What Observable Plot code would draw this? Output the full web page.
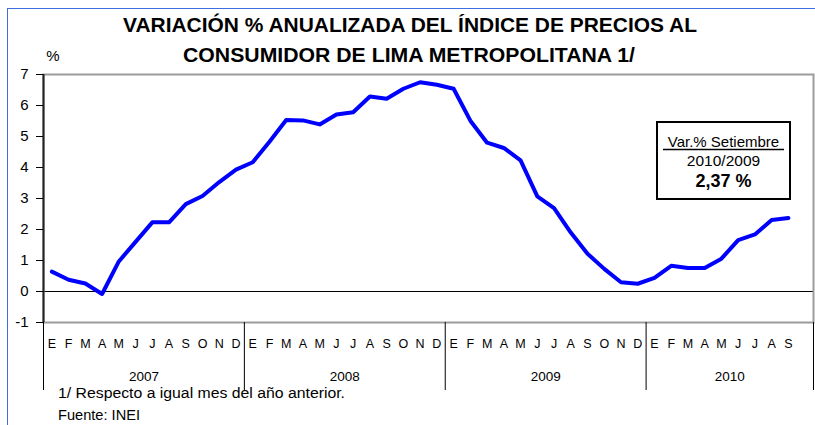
<!DOCTYPE html>
<html>
<head>
<meta charset="utf-8">
<script src="https://cdn.jsdelivr.net/npm/d3@7"></script>
<script src="https://cdn.jsdelivr.net/npm/@observablehq/plot@0.6"></script>
<style>
  html, body { margin: 0; padding: 0; background: #fff; }
  #wrap { position: relative; width: 815px; height: 425px; overflow: hidden; font-family: "Liberation Sans", Arial, sans-serif; }
  #border { position: absolute; left: 7px; top: 8px; width: 900px; height: 500px; border-left: 1.5px solid #3d6fe2; border-top: 1.5px solid #3d6fe2; }
  #chart { position: absolute; left: 0; top: 0; }
  #overlay { position: absolute; left: 0; top: 0; pointer-events: none; }
</style>
</head>
<body>
<div id="wrap">
  <div id="border"></div>
  <div id="chart"></div>
  <svg id="overlay" width="815" height="425" xmlns="http://www.w3.org/2000/svg"></svg>
</div>
<script>
// ---- data ----
const years = ["2007", "2008", "2009", "2010"];
const monthLetters = ["E", "F", "M", "A", "M", "J", "J", "A", "S", "O", "N", "D"];
const slotsPerYear = [12, 12, 12, 10];
const values2007 = [0.64, 0.38, 0.26, -0.08, 0.97, 1.60, 2.23, 2.23, 2.82, 3.08, 3.53, 3.93];
const values2008 = [4.17, 4.83, 5.53, 5.52, 5.39, 5.71, 5.78, 6.29, 6.22, 6.54, 6.75, 6.67];
const values2009 = [6.54, 5.51, 4.80, 4.63, 4.23, 3.07, 2.69, 1.90, 1.22, 0.73, 0.30, 0.25];
const values2010 = [0.44, 0.83, 0.76, 0.76, 1.06, 1.66, 1.84, 2.31, 2.37];
const yTicks = [-1, 0, 1, 2, 3, 4, 5, 6, 7];

const titleLines = ["VARIACIÓN % ANUALIZADA DEL ÍNDICE DE PRECIOS AL", "CONSUMIDOR DE LIMA METROPOLITANA 1/"];
const unitLabel = "%";
const boxLines = ["Var.% Setiembre", "2010/2009", "2,37 %"];
const notes = ["1/ Respecto a  igual mes del año anterior.", "Fuente: INEI"];

// ---- derived ----
const allValues = [...values2007, ...values2008, ...values2009, ...values2010];
const data = allValues.map((v, i) => ({ pos: i + 0.5, v }));
const boundaries = [0];
slotsPerYear.forEach(n => boundaries.push(boundaries[boundaries.length - 1] + n));
const yearMid = slotsPerYear.map((n, k) => boundaries[k] + n / 2);
const monthPos = allValues.map((_, i) => i + 0.5);

const chart = Plot.plot({
  width: 815,
  height: 425,
  marginLeft: 43,
  marginRight: 2,
  marginTop: 74,
  marginBottom: 103,
  x: { domain: [0, boundaries[boundaries.length - 1]], label: null },
  y: { domain: [-1, 7], label: null },
  style: { fontFamily: "'Liberation Sans', Arial, sans-serif", color: "#000", background: "transparent", overflow: "visible" },
  marks: [
    Plot.ruleY([0], { stroke: "#000", strokeWidth: 1 }),
    Plot.frame({ stroke: "#9c9c9c", strokeWidth: 2 }),
    Plot.ruleX([0], { stroke: "#222", strokeWidth: 2 }),
    Plot.axisY({ ticks: yTicks, tickSize: 7, tickPadding: 8, fontSize: 15, tickFormat: d => String(d) }),
    Plot.axisX({ ticks: boundaries, tickSize: 68, tickFormat: () => "", stroke: "#000" }),
    Plot.axisX({ ticks: monthPos, tickSize: 0, tickPadding: 17, fontSize: 12.5, tickFormat: d => monthLetters[Math.floor(d) % 12] }),
    Plot.axisX({ ticks: yearMid, tickSize: 0, tickPadding: 49, fontSize: 13.5, tickFormat: d => years[yearMid.indexOf(d)] }),
    Plot.line(data, { x: "pos", y: "v", stroke: "#0000ff", strokeWidth: 4, strokeLinejoin: "round", strokeLinecap: "round" })
  ]
});
document.getElementById("chart").appendChild(chart);

// ---- overlay texts ----
const ov = d3.select("#overlay").style("font-family", "'Liberation Sans', Arial, sans-serif");
ov.append("text").attr("x", 410).attr("y", 32).attr("text-anchor", "middle")
  .attr("font-size", 20.5).attr("font-weight", "bold").attr("textLength", 574).attr("lengthAdjust", "spacingAndGlyphs")
  .text(titleLines[0]);
ov.append("text").attr("x", 409).attr("y", 62).attr("text-anchor", "middle")
  .attr("font-size", 20.5).attr("font-weight", "bold").attr("textLength", 452).attr("lengthAdjust", "spacingAndGlyphs")
  .text(titleLines[1]);
ov.append("text").attr("x", 53).attr("y", 61).attr("text-anchor", "middle").attr("font-size", 15).text(unitLabel);

// annotation box
ov.append("rect").attr("x", 657).attr("y", 122).attr("width", 133).attr("height", 77)
  .attr("fill", "#fff").attr("stroke", "#000").attr("stroke-width", 2);
ov.append("text").attr("x", 723.5).attr("y", 147).attr("text-anchor", "middle").attr("font-size", 15).text(boxLines[0]);
ov.append("line").attr("x1", 663).attr("x2", 784).attr("y1", 149.5).attr("y2", 149.5).attr("stroke", "#000").attr("stroke-width", 1.5);
ov.append("text").attr("x", 723.5).attr("y", 166).attr("text-anchor", "middle").attr("font-size", 15.5).text(boxLines[1]);
ov.append("text").attr("x", 723.5).attr("y", 187).attr("text-anchor", "middle").attr("font-size", 18).attr("font-weight", "bold").text(boxLines[2]);

// footnotes
ov.append("text").attr("x", 58).attr("y", 398).attr("font-size", 14).attr("textLength", 287).attr("lengthAdjust", "spacingAndGlyphs").text(notes[0]);
ov.append("text").attr("x", 58).attr("y", 420).attr("font-size", 14).attr("textLength", 82).attr("lengthAdjust", "spacingAndGlyphs").text(notes[1]);
</script>
</body>
</html>
